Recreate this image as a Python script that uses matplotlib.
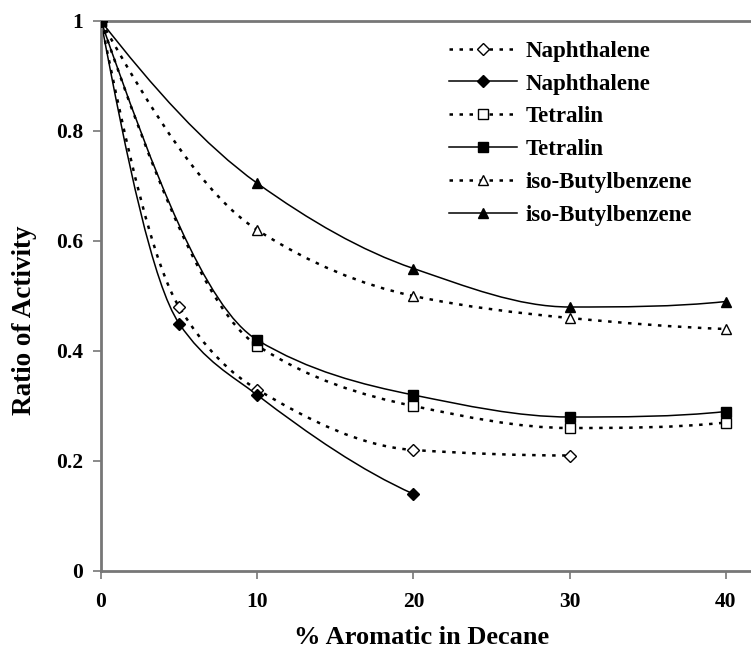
import numpy as np
import matplotlib.pyplot as plt
from matplotlib.path import Path
from matplotlib.patches import PathPatch
from matplotlib.lines import Line2D

plt.rcParams['font.family'] = ['Liberation Serif', 'DejaVu Serif']
plt.rcParams['font.weight'] = 'bold'

# values
naph_x = [0, 5, 10, 20, 30]
naph_open = [1.0, 0.48, 0.33, 0.22, 0.21]
naph_x2 = [0, 5, 10, 20]
naph_fill = [1.0, 0.45, 0.32, 0.14]
tet_x = [0, 10, 20, 30, 40]
tet_open = [1.0, 0.41, 0.30, 0.26, 0.27]
tet_fill = [1.0, 0.42, 0.32, 0.28, 0.29]
iso_x = [0, 10, 20, 30, 40]
iso_open = [1.0, 0.62, 0.50, 0.46, 0.44]
iso_fill = [1.0, 0.705, 0.55, 0.48, 0.49]

labels = ['Naphthalene', 'Naphthalene', 'Tetralin', 'Tetralin',
          'iso-Butylbenzene', 'iso-Butylbenzene']


def slopes(x, y):
    # monotone (pchip style) tangents
    h = np.diff(x)
    dl = np.diff(y) / h
    n = len(x)
    d = np.zeros(n)
    for k in range(1, n - 1):
        if dl[k - 1] * dl[k] > 0:
            w1 = 2 * h[k] + h[k - 1]
            w2 = h[k] + 2 * h[k - 1]
            d[k] = (w1 + w2) / (w1 / dl[k - 1] + w2 / dl[k])
    for i, (a, b, ha, hb) in enumerate([(dl[0], dl[1], h[0], h[1]),
                                        (dl[-1], dl[-2], h[-1], h[-2])]):
        e = ((2 * ha + hb) * a - ha * b) / (ha + hb)
        if np.sign(e) != np.sign(a):
            e = 0.0
        elif np.sign(a) != np.sign(b) and abs(e) > abs(3 * a):
            e = 3 * a
        d[0 if i == 0 else -1] = e
    return d


def smooth_path(x, y):
    x = np.asarray(x, float)
    y = np.asarray(y, float)
    d = slopes(x, y)
    verts = [(x[0], y[0])]
    codes = [Path.MOVETO]
    for i in range(len(x) - 1):
        h = x[i + 1] - x[i]
        verts += [(x[i] + h / 3, y[i] + d[i] * h / 3),
                  (x[i + 1] - h / 3, y[i + 1] - d[i + 1] * h / 3),
                  (x[i + 1], y[i + 1])]
        codes += [Path.CURVE4] * 3
    return Path(verts, codes)


fig = plt.figure(figsize=(7.51, 6.52), dpi=100)
ax = fig.add_axes([101 / 751, 1 - 571 / 652, 650 / 751, 550 / 652])

dots = (0, (1.4, 2.6))
series = [
    (naph_x, naph_open, 'D', 'white', dots),
    (naph_x2, naph_fill, 'D', 'black', '-'),
    (tet_x, tet_open, 's', 'white', dots),
    (tet_x, tet_fill, 's', 'black', '-'),
    (iso_x, iso_open, '^', 'white', dots),
    (iso_x, iso_fill, '^', 'black', '-'),
]

handles = []
for (x, y, m, fc, ls), lab in zip(series, labels):
    lw = 1.8 if ls == dots else 1.1
    patch = PathPatch(smooth_path(x, y), facecolor='none', edgecolor='black',
                      linestyle=ls, linewidth=lw, zorder=2)
    ax.add_patch(patch)
    ms = {'D': 6.5, 's': 6.5, '^': 7.5}[m]
    ax.plot(x, y, linestyle='none', marker=m, markersize=ms, markerfacecolor=fc,
            markeredgecolor='black', markeredgewidth=1.0, zorder=3)
    handles.append(Line2D([0], [0], color='black', linestyle=ls, linewidth=lw,
                          marker=m, markersize=ms, markerfacecolor=fc,
                          markeredgecolor='black'))

ax.set_xlim(0, 650 / 625 * 40)
ax.set_ylim(0, 1)
ax.set_xticks([0, 10, 20, 30, 40])
ax.set_yticks([0, 0.2, 0.4, 0.6, 0.8, 1.0])
ax.set_yticklabels(['0', '0.2', '0.4', '0.6', '0.8', '1'])
ax.tick_params(labelsize=15.5, labelcolor='black', color='#777777', length=6, width=1.2)
ax.tick_params(axis='x', pad=9)
ax.tick_params(axis='y', pad=7)
for lab in ax.get_xticklabels() + ax.get_yticklabels():
    lab.set_fontweight('bold')

for s in ['left', 'bottom', 'top']:
    ax.spines[s].set_color('#777777')
    ax.spines[s].set_linewidth(2)
ax.spines['right'].set_visible(False)

ax.set_xlabel('% Aromatic in Decane', fontsize=19, fontweight='bold')
ax.set_ylabel('Ratio of Activity', fontsize=19.5, fontweight='bold')
ax.xaxis.set_label_coords((422 - 101) / 650, -(637 - 571) / 550)
ax.yaxis.set_label_coords((25 - 101) / 650, (571 - 320) / 550)
ax.xaxis.label.set_va('center')
ax.yaxis.label.set_va('center')

leg = ax.legend(handles, labels, loc='upper left', bbox_to_anchor=(428 / 751, 1 - 20 / 652),
                bbox_transform=fig.transFigure, frameon=False, fontsize=16.5,
                handlelength=3.0, labelspacing=0.515, handletextpad=0.35)
for t in leg.get_texts():
    t.set_fontweight('bold')

fig.savefig('out.png', dpi=100)
